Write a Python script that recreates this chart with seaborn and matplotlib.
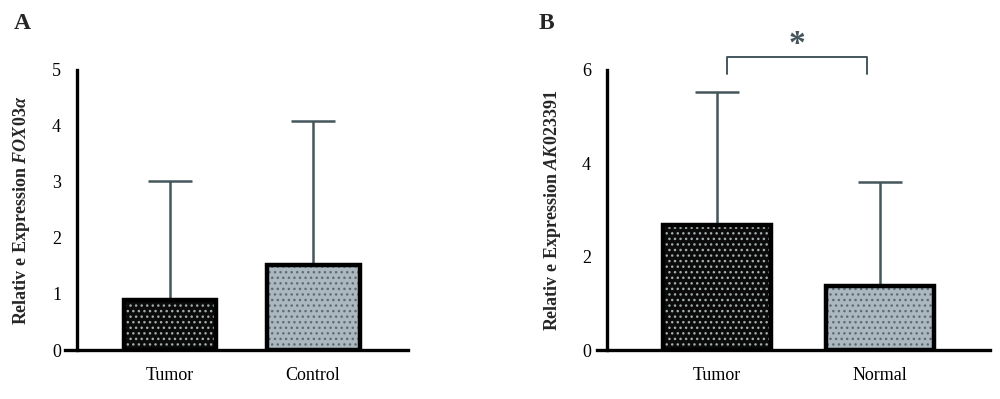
import pandas as pd
import matplotlib.pyplot as plt
import matplotlib.patches as mpatches
import seaborn as sns

sns.set_theme(style="white")
plt.rcParams["font.family"] = ["Liberation Serif", "DejaVu Serif"]
plt.rcParams["mathtext.fontset"] = "custom"
plt.rcParams["mathtext.rm"] = "Liberation Serif:bold"
plt.rcParams["mathtext.bf"] = "Liberation Serif:bold"
plt.rcParams["mathtext.it"] = "Liberation Serif:italic:bold"
plt.rcParams["hatch.linewidth"] = 1.0

# panel A
groups_a = ["Tumor", "Control"]
means_a = [0.89, 1.52]
upper_a = [3.02, 4.09]

# panel B
groups_b = ["Tumor", "Normal"]
means_b = [2.68, 1.38]
upper_b = [5.52, 3.61]

face_colors = ["#0b0b0b", "#a9b8c3"]
dot_colors = ["#a3adad", "#5d6c74"]
err_color = "#44565c"
axis_lw = 2.4

fig = plt.figure(figsize=(10, 3.99), dpi=100)
ax_a = fig.add_axes([0.065, 0.1228, 0.343, 0.7018])
ax_b = fig.add_axes([0.597, 0.1228, 0.393, 0.7018])


def draw_panel(ax, groups, means, upper, ylabel, yticks, xlim, spine_x, width):
    df = pd.DataFrame({"group": groups, "value": means})
    sns.barplot(data=df, x="group", y="value", hue="group", palette=face_colors,
                width=width, hatch="...", linewidth=0, legend=False, ax=ax, zorder=2)
    for patch, dc in zip(ax.patches, dot_colors):
        patch.set_edgecolor(dc)
        outline = mpatches.Rectangle(patch.get_xy(), patch.get_width(), patch.get_height(),
                                     fill=False, edgecolor="black", linewidth=3.2, zorder=3)
        ax.add_patch(outline)
    pos = list(range(len(groups)))
    err = [[0] * len(means), [u - m for u, m in zip(upper, means)]]
    ax.errorbar(pos, means, yerr=err, fmt="none", ecolor=err_color,
                elinewidth=1.8, capsize=16, capthick=1.8, zorder=1)
    ax.set_xlim(*xlim)
    ax.set_ylim(0, yticks[-1])
    ax.set_yticks(yticks)
    ax.set_xlabel("")
    ax.set_ylabel(ylabel, fontsize=13, labelpad=14)
    for side in ["top", "right"]:
        ax.spines[side].set_visible(False)
    ax.spines["left"].set_position(("data", spine_x))
    for side in ["left", "bottom"]:
        ax.spines[side].set_linewidth(axis_lw)
        ax.spines[side].set_color("black")
    ax.tick_params(axis="both", direction="out", length=8.5, width=axis_lw,
                   color="black", labelsize=13, labelcolor="black", pad=4)
    ax.tick_params(axis="y", pad=3)
    ax.grid(False)


draw_panel(ax_a, groups_a, means_a, upper_a,
           r"$\mathbf{Relativ\ e\ Expression}\ \mathit{FOX03α}$",
           [0, 1, 2, 3, 4, 5], (-0.734, 1.664), -0.65, 0.65)
draw_panel(ax_b, groups_b, means_b, upper_b,
           r"$\mathbf{Relativ\ e\ Expression}\ \mathit{AK023391}$",
           [0, 2, 4, 6], (-0.736, 1.675), -0.675, 0.663)

# significance bracket
ax_b.plot([0.06, 0.06, 0.92, 0.92], [5.91, 6.28, 6.28, 5.91], color=err_color,
          linewidth=1.4, clip_on=False)
ax_b.text(0.49, 6.55, "*", ha="center", va="center", fontsize=24,
          fontweight="bold", color=err_color, clip_on=False)

fig.text(0.014, 0.94, "A", fontsize=17, fontweight="bold", ha="left", va="center")
fig.text(0.539, 0.94, "B", fontsize=17, fontweight="bold", ha="left", va="center")

plt.savefig("out.png", dpi=100)
plt.close()
